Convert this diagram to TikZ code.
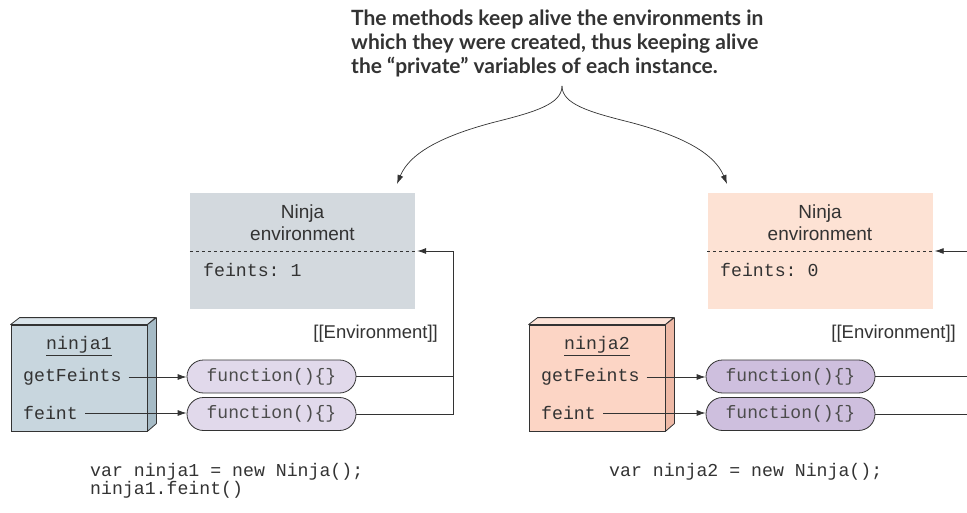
\documentclass[tikz,border=0pt]{standalone}
\usepackage{fontspec}
\setmainfont{Liberation Sans}
\setmonofont{Liberation Mono}
\newfontfamily\titlefont{Lato}
\usetikzlibrary{arrows.meta, shapes.misc, positioning, calc}
\definecolor{envGray}{RGB}{211,217,222}
\definecolor{envPeach}{RGB}{253,226,212}
\definecolor{objBlue}{RGB}{200,214,222}
\definecolor{objBlueSide}{RGB}{166,187,198}
\definecolor{objBlueTop}{RGB}{218,228,234}
\definecolor{objPeach}{RGB}{252,213,197}
\definecolor{objPeachSide}{RGB}{238,185,166}
\definecolor{objPeachTop}{RGB}{253,227,216}
\definecolor{fnLight}{RGB}{225,217,235}
\definecolor{fnDark}{RGB}{206,191,222}
\definecolor{inkGray}{RGB}{51,51,51}

\begin{document}
\begin{tikzpicture}[x=1pt, y=-1pt,
  every node/.style={inner sep=2pt},
  envbox/.style={rectangle, minimum width=225pt, minimum height=116pt},
  objface/.style={draw=inkGray, line width=0.8pt, minimum width=136pt, minimum height=106pt},
  fnpill/.style={rounded rectangle, draw=inkGray, line width=0.8pt, minimum width=173pt,
    minimum height=33pt, font=\fontsize{18}{18}\ttfamily, text=black!70},
  codetxt/.style={font=\fontsize{18.2}{18.5}\ttfamily, text=inkGray},
  envlabel/.style={font=\fontsize{19}{22}\selectfont, align=center, text=inkGray},
  link/.style={draw=inkGray, line width=0.8pt},
  ptr/.style={link, -{Latex[length=9pt,width=6pt]}}]
  \useasboundingbox (0,0) rectangle (967,513);

  % note at the top
  \node[anchor=north west, align=left, font=\titlefont\bfseries\fontsize{21}{24}\selectfont,
    text=inkGray] (note) at (349,8)
    {The methods keep alive the environments in\\which they were created, thus keeping alive\\the “private” variables of each instance.};
  \coordinate (tip) at (562,86);
  \coordinate (ar1) at (397,184);
  \coordinate (ar2) at (727,184);
  \draw[ptr, line width=0.7pt] (tip) .. controls (562,104) and (535,112) .. (495,122)
    .. controls (445,135) and (410,152) .. (ar1);
  \draw[ptr, line width=0.7pt] (tip) .. controls (562,104) and (589,112) .. (629,122)
    .. controls (679,135) and (714,152) .. (ar2);

  % left instance: environment
  \node[envbox, fill=envGray] (env1) at (302.5,251) {};
  \draw[link, dashed] (env1.west) -- (env1.east);
  \node[envlabel] (env1lbl) at (302.5,223) {Ninja\\environment};
  \node[codetxt, anchor=west] (feints1) at (201,270) {feints: 1};

  % left instance: object block
  \node[objface, fill=objBlue] (ninja1) at (79,378) {};
  \filldraw[fill=objBlueTop, draw=inkGray, line width=0.8pt, line join=round]
    (ninja1.north west) -- ++(9,-7) -- ++(136,0) -- (ninja1.north east) -- cycle;
  \filldraw[fill=objBlueSide, draw=inkGray, line width=0.8pt, line join=round]
    (ninja1.north east) -- ++(9,-7) -- ++(0,106) -- (ninja1.south east) -- cycle;
  \node[codetxt] (ninja1name) at (79,346) {\underline{ninja1}};
  \node[codetxt, anchor=west] (gf1) at (21,377) {getFeints};
  \node[codetxt, anchor=west] (ft1) at (21,413) {feint};

  % left instance: methods
  \node[fnpill, fill=fnLight] (fn1a) at (271.5,376.5) {function()\{\}};
  \node[fnpill, fill=fnLight] (fn1b) at (271.5,414) {function()\{\}};
  \draw[ptr, shorten <=5pt] (gf1.east) -- (gf1.east -| fn1a.west);
  \draw[ptr, shorten <=5pt] (ft1.east) -- (ft1.east -| fn1b.west);
  \coordinate (up1) at (453,251);
  \draw[link] (fn1a.east) -- (fn1a.east -| up1);
  \draw[ptr] (fn1b.east) -| (up1) -- ($(env1.east)+(2,0)$);
  \node[font=\fontsize{18.5}{18.5}\selectfont, text=inkGray, anchor=east] (envref1) at (440,334) {[[Environment]]};

  \node[codetxt, anchor=west, align=left] (code1) at (88,481) {var ninja1 = new Ninja();\\ninja1.feint()};

  % right instance: environment
  \node[envbox, fill=envPeach] (env2) at (820,251) {};
  \draw[link, dashed] (env2.west) -- (env2.east);
  \node[envlabel] (env2lbl) at (820,223) {Ninja\\environment};
  \node[codetxt, anchor=west] (feints2) at (718,270) {feints: 0};

  % right instance: object block
  \node[objface, fill=objPeach] (ninja2) at (597,378) {};
  \filldraw[fill=objPeachTop, draw=inkGray, line width=0.8pt, line join=round]
    (ninja2.north west) -- ++(9,-7) -- ++(136,0) -- (ninja2.north east) -- cycle;
  \filldraw[fill=objPeachSide, draw=inkGray, line width=0.8pt, line join=round]
    (ninja2.north east) -- ++(9,-7) -- ++(0,106) -- (ninja2.south east) -- cycle;
  \node[codetxt] (ninja2name) at (597,346) {\underline{ninja2}};
  \node[codetxt, anchor=west] (gf2) at (539,377) {getFeints};
  \node[codetxt, anchor=west] (ft2) at (539,413) {feint};

  % right instance: methods
  \node[fnpill, fill=fnDark] (fn2a) at (790.5,376.5) {function()\{\}};
  \node[fnpill, fill=fnDark] (fn2b) at (790.5,414) {function()\{\}};
  \draw[ptr, shorten <=5pt] (gf2.east) -- (gf2.east -| fn2a.west);
  \draw[ptr, shorten <=5pt] (ft2.east) -- (ft2.east -| fn2b.west);
  \coordinate (edge2) at (967,251);
  \draw[link] (fn2a.east) -- (fn2a.east -| edge2);
  \draw[link] (fn2b.east) -- (fn2b.east -| edge2);
  \draw[ptr] (edge2) -- ($(env2.east)+(2,0)$);
  \node[font=\fontsize{18.5}{18.5}\selectfont, text=inkGray, anchor=east] (envref2) at (958,334) {[[Environment]]};

  \node[codetxt, anchor=west] (code2) at (607,472) {var ninja2 = new Ninja();};
\end{tikzpicture}
\end{document}
